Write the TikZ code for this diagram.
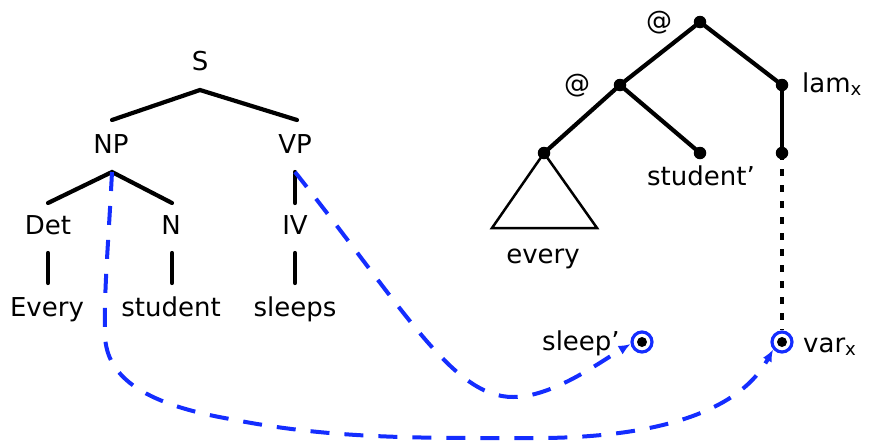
\documentclass[tikz,border=0pt]{standalone}
\usepackage{fontspec}
\setmainfont{DejaVu Sans}
\usetikzlibrary{arrows.meta}
\definecolor{linkblue}{RGB}{20,45,255}
\begin{document}
\begin{tikzpicture}[x=1pt,y=-1pt,
  lbl/.style={inner sep=0pt, font=\fontsize{26}{30}\selectfont},
  branch/.style={line width=4.2pt, line cap=round},
  thin/.style={line width=2.5pt, line join=miter},
  dotn/.style={circle, fill=black, inner sep=0pt, minimum size=12.5pt},
  ring/.style={circle, draw=linkblue, line width=3.2pt, inner sep=0pt, minimum size=20pt},
  innerdot/.style={circle, fill=black, inner sep=0pt, minimum size=10pt},
  link/.style={draw=linkblue, line width=4pt, dash pattern=on 19pt off 15pt,
     -{Latex[length=12pt,width=10pt]}},
  dotline/.style={line width=4pt, dash pattern=on 7pt off 9pt}
]
\useasboundingbox (0,0) rectangle (872,445);

% ---------- syntax tree ----------
\node[lbl, anchor=base] (S)  at (200,70) {S};
\node[lbl, anchor=base] (NP) at (111,153) {NP};
\node[lbl, anchor=base] (VP) at (295,153) {VP};
\node[lbl, anchor=base] (Det) at (48,234) {Det};
\node[lbl, anchor=base] (N)   at (171,234) {N};
\node[lbl, anchor=base] (IV)  at (295,234) {IV};
\node[lbl, anchor=base] (Every)   at (47,316) {Every};
\node[lbl, anchor=base] (student) at (171,316) {student};
\node[lbl, anchor=base] (sleeps)  at (295,316) {sleeps};

\coordinate (sA) at (200,90);
\coordinate (sL) at (112,120);
\coordinate (sR) at (297,120);
\coordinate (npA) at (112,172);
\coordinate (npL) at (48,203);
\coordinate (npR) at (172,203);
\coordinate (vpA) at (295,172);
\coordinate (vpB) at (295,203);
\coordinate (detB) at (48,253);
\coordinate (detE) at (48,283);
\coordinate (nB) at (172,253);
\coordinate (nE) at (172,283);
\coordinate (ivB) at (295,253);
\coordinate (ivE) at (295,283);

\draw[branch] (sL) -- (sA) -- (sR);
\draw[branch] (npL) -- (npA) -- (npR);
\draw[branch] (vpA) -- (vpB);
\draw[branch] (detB) -- (detE);
\draw[branch] (nB) -- (nE);
\draw[branch] (ivB) -- (ivE);

% ---------- semantic tree ----------
\node[dotn] (top) at (700,22) {};
\node[dotn] (app) at (620,85) {};
\node[dotn] (lam) at (782,85) {};
\node[dotn] (ev)  at (544,153) {};
\node[dotn] (stu) at (700,153) {};
\node[dotn] (body) at (782,153) {};

\draw[branch] (app.center) -- (top.center) -- (lam.center);
\draw[branch] (ev.center) -- (app.center) -- (stu.center);
\draw[branch] (lam.center) -- (body.center);

\coordinate (triL) at (492,228);
\coordinate (triR) at (597,228);
\draw[thin] (ev.center) -- (triL) -- (triR) -- cycle;

\node[lbl] (at1) at (659,23) {@};
\node[lbl] (at2) at (577,86) {@};
\node[lbl, anchor=base west] (lamx) at (802,92) {lam\textsubscript{x}};
\node[lbl, anchor=base] (every) at (543,263) {every};
\node[lbl, anchor=base] (studentp) at (701,185) {student’};

\node[ring] (sl) at (642,342) {};
\node[innerdot] at (sl.center) {};
\node[ring] (var) at (782,342) {};
\node[innerdot] at (var.center) {};
\node[lbl, anchor=base west] (sleepp) at (542,350) {sleep’};
\node[lbl, anchor=base west] (varx) at (803,352) {var\textsubscript{x}};

\draw[dotline] (body.center) -- (var.north);

% ---------- links ----------
\draw[link] (npA) .. controls (108,250) and (104,290) .. (105,335)
   .. controls (106,380) and (150,405) .. (230,419)
   .. controls (330,439) and (420,438) .. (520,438)
   .. controls (660,440) and (740,410) .. (var.220);
\draw[link] (vpA) .. controls (406,312) and (453,397) .. (513,397)
   .. controls (553,397) and (600,362) .. (sl.190);
\end{tikzpicture}
\end{document}
